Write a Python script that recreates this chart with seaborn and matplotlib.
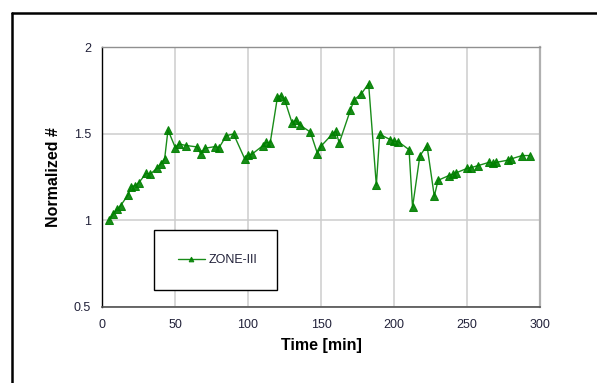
import matplotlib
matplotlib.use("Agg")
import matplotlib.pyplot as plt
from matplotlib.lines import Line2D
from matplotlib.patches import Rectangle
import seaborn as sns
import pandas as pd

# Sampling times [min]
time_min = [5.0, 7.6, 10.2, 12.8, 17.8, 20.1, 22.7, 25.3, 30.3, 32.9,
            37.6, 40.2, 42.9, 45.2, 50.2, 52.8, 57.7, 65.1, 67.7, 70.3,
            77.6, 80.2, 85.2, 90.1, 97.7, 100.1, 102.7, 110.0, 112.6, 115.2,
            120.2, 122.5, 125.2, 130.1, 132.7, 135.4, 142.7, 147.6, 150.2, 157.6,
            160.2, 162.5, 170.1, 172.7, 177.7, 182.6, 187.9, 190.2, 197.5, 200.2,
            202.8, 210.3, 212.7, 217.7, 222.6, 227.6, 230.2, 237.5, 240.1, 242.5,
            250.1, 252.7, 257.6, 265.2, 267.8, 270.2, 277.8, 280.4, 287.7, 292.9]

# Normalized count, ZONE-III
zone_iii = [1.000, 1.035, 1.064, 1.085, 1.146, 1.195, 1.200, 1.218, 1.272, 1.266,
            1.300, 1.326, 1.355, 1.522, 1.420, 1.441, 1.432, 1.424, 1.382, 1.416,
            1.426, 1.420, 1.489, 1.499, 1.356, 1.376, 1.382, 1.430, 1.451, 1.447,
            1.713, 1.720, 1.694, 1.565, 1.578, 1.551, 1.510, 1.385, 1.430, 1.497,
            1.514, 1.447, 1.636, 1.696, 1.732, 1.790, 1.202, 1.497, 1.466, 1.457,
            1.455, 1.408, 1.075, 1.372, 1.432, 1.139, 1.231, 1.258, 1.266, 1.274,
            1.300, 1.304, 1.316, 1.335, 1.329, 1.335, 1.347, 1.355, 1.374, 1.374]

series_name = "ZONE-III"
x_ticks = [0, 50, 100, 150, 200, 250, 300]
y_ticks = [0.5, 1, 1.5, 2]
y_tick_labels = ["0.5", "1", "1.5", "2"]

df = pd.DataFrame({"Time [min]": time_min, "Normalized #": zone_iii,
                   "series": series_name})

sns.set_theme(style="white")
plt.rcParams["font.family"] = ["Liberation Sans", "DejaVu Sans"]

W, H = 597, 383
fig = plt.figure(figsize=(W / 100, H / 100), dpi=100)
fig.patch.set_facecolor("white")

ax = fig.add_axes([102 / W, 1 - 306.7 / H, 438 / W, 259.4 / H])

green = "#008000"
sns.lineplot(data=df, x="Time [min]", y="Normalized #", ax=ax,
             color=green, linewidth=1.0, marker="^", markersize=5.6,
             markeredgecolor=green, markerfacecolor=green,
             label=series_name, legend=False)
ax.lines[0].set_alpha(0.9)

ax.set_xlim(0, 300)
ax.set_ylim(0.5, 2)
ax.set_xticks(x_ticks)
ax.set_yticks(y_ticks)
ax.set_yticklabels(y_tick_labels)

ax.grid(True, color="#cdcdcd", linewidth=1.1)
ax.set_axisbelow(True)

for side, col, lw in [("left", "#000000", 1.0), ("bottom", "#505050", 1.2),
                      ("top", "#909090", 1.0), ("right", "#b0b0b0", 1.6)]:
    ax.spines[side].set_visible(True)
    ax.spines[side].set_color(col)
    ax.spines[side].set_linewidth(lw)

tick_col = "#22223a"
ax.tick_params(axis="both", which="both", direction="out", length=3.5,
               width=0.9, color="#303030", labelsize=9, labelcolor=tick_col)
ax.tick_params(axis="y", pad=4.5)
ax.tick_params(axis="x", pad=5.5)

ax.set_xlabel("Time [min]", fontsize=11.5, fontweight="bold", color="#000000",
              labelpad=5)
ax.set_ylabel("Normalized #", fontsize=11.5, fontweight="bold", color="#000000",
              labelpad=9)

# Legend inside a plain rectangular box
fig.add_artist(Rectangle((154 / W, 1 - 290.3 / H), 122.7 / W, 60.3 / H,
                         transform=fig.transFigure, facecolor="white",
                         edgecolor="black", linewidth=1.0, zorder=5))
handles, labels = ax.get_legend_handles_labels()
leg = fig.legend(handles, labels, loc="center left",
                 bbox_to_anchor=(178.3 / W, 1 - 260 / H),
                 frameon=False, fontsize=9, handlelength=2.1,
                 handletextpad=0.3, borderpad=0, borderaxespad=0,
                 markerscale=0.6, numpoints=1)
leg.set_zorder(6)
for t in leg.get_texts():
    t.set_color(tick_col)

# Outer chart border (left and top edges)
fig.add_artist(Line2D([12 / W, 12 / W], [0, 1 - 13 / H], color="black",
                      linewidth=1.8, transform=fig.transFigure))
fig.add_artist(Line2D([12 / W, 1], [1 - 13 / H, 1 - 13 / H], color="black",
                      linewidth=1.8, transform=fig.transFigure))

fig.savefig("out.png", dpi=100, facecolor="white")
